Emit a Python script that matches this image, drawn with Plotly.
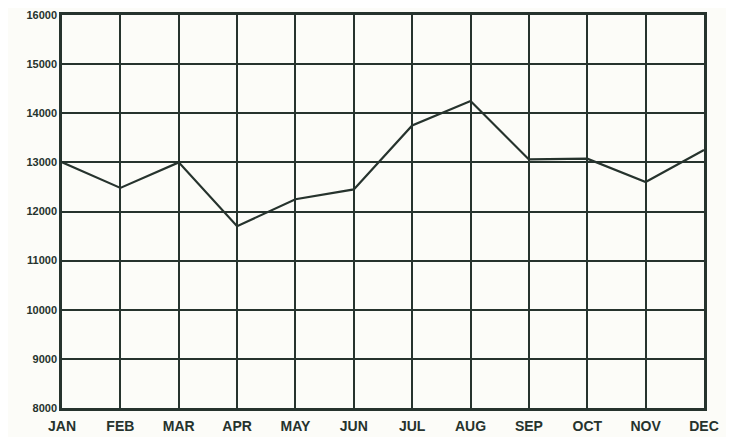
import plotly.graph_objects as go

months = ["JAN", "FEB", "MAR", "APR", "MAY", "JUN", "JUL", "AUG", "SEP", "OCT", "NOV", "DEC"]
values = [13000, 12480, 13000, 11700, 12250, 12450, 13750, 14250, 13060, 13075, 12600, 13250]
y_ticks = [8000, 9000, 10000, 11000, 12000, 13000, 14000, 15000, 16000]

ink = "#26332d"

fig = go.Figure()
fig.add_trace(go.Scatter(
    x=list(range(len(months))), y=values, mode="lines",
    line=dict(color=ink, width=2.2), showlegend=False,
))

fig.update_layout(
    width=726, height=429,
    margin=dict(l=54, r=30, t=7, b=29),
    paper_bgcolor="#fcfcf8", plot_bgcolor="#fcfcf8",
    font=dict(family="Liberation Sans, Arial, sans-serif", size=12, color=ink),
)
fig.update_xaxes(
    range=[0, 11], tickmode="array", tickvals=list(range(12)),
    ticktext=[f"<b>{m}</b>" for m in months],
    showgrid=True, gridcolor=ink, gridwidth=2,
    showline=True, linecolor=ink, linewidth=2.5, mirror=True,
    zeroline=False, ticks="", ticklen=0, automargin=False,
    tickfont=dict(size=14), ticklabelstandoff=3,
)
fig.update_yaxes(
    range=[8000, 16000], tickmode="array", tickvals=y_ticks,
    ticktext=[f"<b>{v}</b>" for v in y_ticks],
    showgrid=True, gridcolor=ink, gridwidth=2,
    showline=True, linecolor=ink, linewidth=2.5, mirror=True,
    zeroline=False, ticks="", tickfont=dict(size=11), automargin=False,
)
fig.write_html("out.html")
